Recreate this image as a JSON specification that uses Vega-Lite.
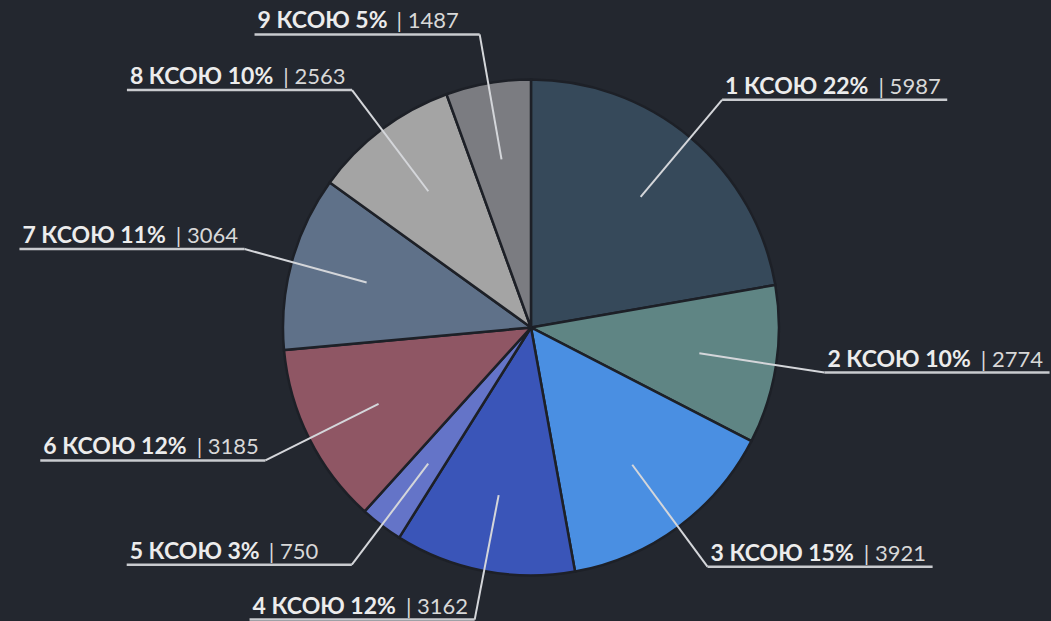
{
  "$schema": "https://vega.github.io/schema/vega-lite/v6.json",
  "width": 1051,
  "height": 621,
  "padding": 0,
  "autosize": {"type": "fit", "contains": "padding"},
  "background": "#23272f",
  "config": {"view": {"stroke": null}},
  "data": {
    "values": [
      {"id": 1, "label": "1 КСОЮ 22%", "value": 5987},
      {"id": 2, "label": "2 КСОЮ 10%", "value": 2774},
      {"id": 3, "label": "3 КСОЮ 15%", "value": 3921},
      {"id": 4, "label": "4 КСОЮ 12%", "value": 3162},
      {"id": 5, "label": "5 КСОЮ 3%", "value": 750},
      {"id": 6, "label": "6 КСОЮ 12%", "value": 3185},
      {"id": 7, "label": "7 КСОЮ 11%", "value": 3064},
      {"id": 8, "label": "8 КСОЮ 10%", "value": 2563},
      {"id": 9, "label": "9 КСОЮ 5%", "value": 1487}
    ]
  },
  "transform": [
    {"joinaggregate": [{"op": "sum", "field": "value", "as": "total"}]},
    {"window": [{"op": "sum", "field": "value", "as": "cum"}], "sort": [{"field": "id", "order": "ascending"}], "frame": [null, 0]},
    {"calculate": "(datum.cum - datum.value / 2) / datum.total * 2 * PI", "as": "a"},
    {"calculate": "171 * sin(datum.a)", "as": "x1"},
    {"calculate": "171 * cos(datum.a)", "as": "y1"},
    {"calculate": "298 * sin(datum.a)", "as": "x2"},
    {"calculate": "298 * cos(datum.a)", "as": "y2"},
    {"calculate": "sin(datum.a) > 0 ? datum.x2 + 226 : datum.x2 - 226", "as": "x3"},
    {"calculate": "min(datum.x2, datum.x3) + 3", "as": "xs"},
    {"calculate": "datum.y2 + 6", "as": "yt"},
    {"calculate": "datum.xs + length(datum.label) * 14.4 + 10", "as": "xn"},
    {"calculate": "'| ' + datum.value", "as": "num"}
  ],
  "layer": [
    {
      "mark": {"type": "arc", "radius": 248, "stroke": "#1d2027", "strokeWidth": 2.5},
      "encoding": {
        "x": {"datum": 0, "type": "quantitative", "scale": {"domain": [-533, 518], "nice": false, "zero": false}, "axis": null},
        "y": {"datum": 0, "type": "quantitative", "scale": {"domain": [-293, 328], "nice": false, "zero": false}, "axis": null},
        "theta": {"field": "value", "type": "quantitative", "stack": true},
        "order": {"field": "id", "type": "quantitative", "sort": "ascending"},
        "color": {
          "field": "label",
          "type": "nominal",
          "legend": null,
          "scale": {
            "domain": ["1 КСОЮ 22%", "2 КСОЮ 10%", "3 КСОЮ 15%", "4 КСОЮ 12%", "5 КСОЮ 3%", "6 КСОЮ 12%", "7 КСОЮ 11%", "8 КСОЮ 10%", "9 КСОЮ 5%"],
            "range": ["#36495a", "#5f8584", "#4a8fe2", "#3a55b8", "#6474c8", "#8f5664", "#5f7189", "#a4a4a4", "#7b7c81"]
          }
        }
      }
    },
    {
      "mark": {"type": "rule", "color": "#d4d6da", "strokeWidth": 2},
      "encoding": {
        "x": {"field": "x1", "type": "quantitative"},
        "y": {"field": "y1", "type": "quantitative"},
        "x2": {"field": "x2"},
        "y2": {"field": "y2"}
      }
    },
    {
      "mark": {"type": "rule", "color": "#c9cbcf", "strokeWidth": 2.5},
      "encoding": {
        "x": {"field": "x2", "type": "quantitative"},
        "y": {"field": "y2", "type": "quantitative"},
        "x2": {"field": "x3"},
        "y2": {"field": "y2"}
      }
    },
    {
      "mark": {"type": "text", "align": "left", "baseline": "alphabetic", "font": "Lato", "fontWeight": "bold", "fontSize": 23, "color": "#ececec"},
      "encoding": {
        "x": {"field": "xs", "type": "quantitative"},
        "y": {"field": "yt", "type": "quantitative"},
        "text": {"field": "label"}
      }
    },
    {
      "mark": {"type": "text", "align": "left", "baseline": "alphabetic", "font": "Lato", "fontWeight": "normal", "fontSize": 22, "color": "#d8d8d8"},
      "encoding": {
        "x": {"field": "xn", "type": "quantitative"},
        "y": {"field": "yt", "type": "quantitative"},
        "text": {"field": "num"}
      }
    }
  ]
}
